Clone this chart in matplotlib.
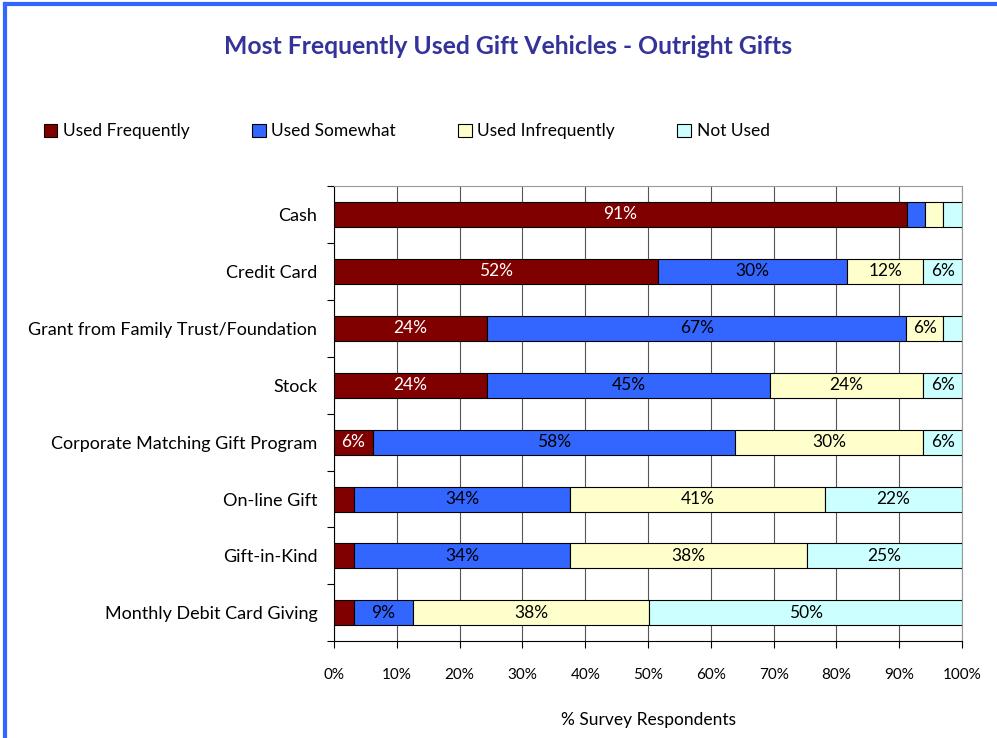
import matplotlib
matplotlib.use("Agg")
import matplotlib.pyplot as plt
from matplotlib.lines import Line2D
import numpy as np

categorias = ["Cash", "Credit Card", "Grant from Family Trust/Foundation", "Stock",
              "Corporate Matching Gift Program", "On-line Gift", "Gift-in-Kind",
              "Monthly Debit Card Giving"]
series = ["Used Frequently", "Used Somewhat", "Used Infrequently", "Not Used"]
freq = [91.2, 51.6, 24.4, 24.4, 6.2, 3.2, 3.2, 3.2]
somewhat = [2.9, 30.1, 66.7, 45.0, 57.6, 34.4, 34.4, 9.4]
infreq = [2.9, 12.1, 5.9, 24.4, 30.0, 40.6, 37.7, 37.6]
not_used = [3.0, 6.2, 3.0, 6.2, 6.2, 21.8, 24.7, 49.8]
x_ticks = [0, 10, 20, 30, 40, 50, 60, 70, 80, 90, 100]

cores = ["#800000", "#3366FF", "#FFFFCC", "#CCFFFF"]
cor_texto = ["white", "black", "black", "black"]

plt.rcParams['font.family'] = ['Lato', 'DejaVu Sans']

fig = plt.figure(figsize=(9.97, 7.38), dpi=100)
ax = fig.add_axes([0.335, 0.131, 0.630, 0.617])

y = np.arange(len(categorias))
esquerda = np.zeros(len(categorias))
for k, vals in enumerate([freq, somewhat, infreq, not_used]):
    vals = np.array(vals)
    ax.barh(y, vals, left=esquerda, height=0.44, color=cores[k],
            edgecolor="black", linewidth=0.8, label=series[k], zorder=3)
    for i, v in enumerate(vals):
        if v >= 5:
            ax.text(esquerda[i] + v / 2, y[i], f"{round(v)}%", ha="center", va="center",
                    color=cor_texto[k], fontsize=12.5, zorder=4)
    esquerda += vals

ax.set_xlim(0, 100)
ax.set_ylim(len(categorias) - 0.5, -0.5)
ax.set_xticks(x_ticks)
ax.set_xticklabels([f"{t}%" for t in x_ticks], fontsize=11)
ax.set_yticks(y)
ax.set_yticklabels(categorias, fontsize=13)
ax.set_yticks(np.arange(-0.5, len(categorias), 1), minor=True)
ax.tick_params(axis="y", which="major", length=0, pad=12)
ax.tick_params(axis="y", which="minor", length=5, direction="out", width=0.8)
ax.tick_params(axis="x", length=5, width=0.8, pad=14)
ax.xaxis.grid(True, color="#555555", linewidth=0.8, zorder=0)
ax.set_axisbelow(True)
for lado in ["top", "right"]:
    ax.spines[lado].set_color("#999999")
ax.set_xlabel("% Survey Respondents", fontsize=12.5, labelpad=22)

fig.text(0.51, 0.937, "Most Frequently Used Gift Vehicles - Outright Gifts",
         ha="center", va="center", fontsize=17.8, fontweight="bold", color="#333399")

fig.legend(loc="center left", bbox_to_anchor=(0.028, 0.822), ncol=4, frameon=False,
           fontsize=12.5, handlelength=0.8, handleheight=0.8, handletextpad=0.3,
           columnspacing=3.6)

# borda azul
fig.add_artist(Line2D([0.005, 0.005], [0, 0.994], transform=fig.transFigure,
                      color="#3366FF", linewidth=3))
fig.add_artist(Line2D([0.005, 1], [0.994, 0.994], transform=fig.transFigure,
                      color="#3366FF", linewidth=3))

fig.savefig("out.png", dpi=100)
